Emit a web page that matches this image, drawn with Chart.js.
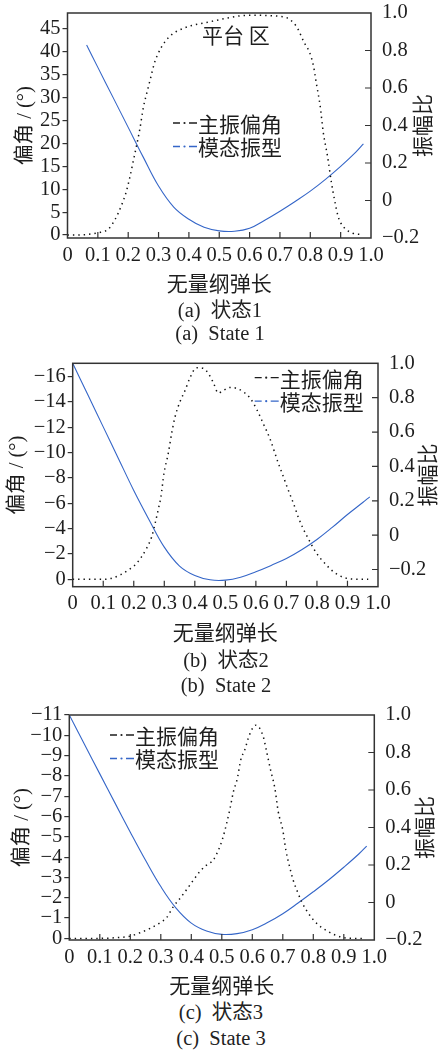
<!DOCTYPE html>
<html>
<head>
<meta charset="utf-8">
<script src="https://cdn.jsdelivr.net/npm/chart.js@4.4.1/dist/chart.umd.min.js"></script>
<style>
html, body { margin: 0; padding: 0; background: #fff; }
body { width: 439px; height: 1051px; position: relative; overflow: hidden;
       font-family: 'Liberation Serif', 'Noto Sans CJK SC', serif; color: #222; }
canvas { position: absolute; left: 0; }
.cap { position: absolute; width: 300px; text-align: center; font-size: 20.5px;
       line-height: 24px; white-space: pre; }
</style>
</head>
<body>
<canvas id="chartA" width="439" height="300" style="top:0px"></canvas>
<canvas id="chartB" width="439" height="305" style="top:345px"></canvas>
<canvas id="chartC" width="439" height="300" style="top:697px"></canvas>

<div class="cap" style="left:70px;top:298px">(a)  状态1</div>
<div class="cap" style="left:70px;top:321px">(a)  State 1</div>
<div class="cap" style="left:76px;top:648px">(b)  状态2</div>
<div class="cap" style="left:76px;top:673px">(b)  State 2</div>
<div class="cap" style="left:71px;top:1000px">(c)  状态3</div>
<div class="cap" style="left:71px;top:1026px">(c)  State 3</div>

<script>
// Tick values
const X_TICKS = [0, 0.1, 0.2, 0.3, 0.4, 0.5, 0.6, 0.7, 0.8, 0.9, 1.0];
const RATIO_TICKS = [-0.2, 0, 0.2, 0.4, 0.6, 0.8, 1.0];
const ANGLE_TICKS_A = [0, 5, 10, 15, 20, 25, 30, 35, 40, 45];
const ANGLE_TICKS_B = [0, -2, -4, -6, -8, -10, -12, -14, -16];
const ANGLE_TICKS_C = [0, -1, -2, -3, -4, -5, -6, -7, -8, -9, -10, -11];

// State 1 - main deflection angle (deg) and mode shape
const ANGLE_X_A = [0, 0.05, 0.1, 0.134, 0.156, 0.178, 0.192, 0.204, 0.215, 0.239, 0.25, 0.264,
  0.275, 0.286, 0.297, 0.31, 0.335, 0.38, 0.47, 0.6, 0.71, 0.755, 0.78, 0.797, 0.81, 0.82,
  0.832, 0.843, 0.857, 0.87, 0.881, 0.892, 0.909, 0.94, 0.97];
const ANGLE_A = [0, 0.05, 0.5, 1.24, 3.3, 6.5, 9.1, 12.2, 15.6, 23.4, 27.9, 31.7,
  34.6, 37.5, 39.4, 41.1, 43.3, 45.1, 46.6, 48.0, 47.7, 45.5, 42.0, 40.0, 37.1, 33.1,
  28.4, 22.3, 17.1, 11.3, 7.3, 4.0, 1.8, 0.4, 0.1];
const MODE_X_A = [0.063, 0.1, 0.15, 0.2, 0.25, 0.3, 0.35, 0.4, 0.45, 0.5, 0.55, 0.6, 0.65,
  0.7, 0.75, 0.8, 0.85, 0.9, 0.95, 0.975];
const MODE_A = [0.829, 0.71, 0.55, 0.39, 0.23, 0.077, -0.035, -0.1, -0.143, -0.162, -0.164,
  -0.148, -0.105, -0.057, -0.005, 0.05, 0.113, 0.182, 0.258, 0.302];

// State 2
const ANGLE_X_B = [0, 0.1, 0.122, 0.155, 0.182, 0.204, 0.226, 0.242, 0.259, 0.27, 0.281, 0.289,
  0.299, 0.313, 0.324, 0.335, 0.351, 0.368, 0.384, 0.406, 0.428, 0.444, 0.461, 0.477, 0.493,
  0.515, 0.537, 0.559, 0.581, 0.603, 0.624, 0.646, 0.673, 0.69, 0.706, 0.723, 0.739, 0.755,
  0.777, 0.799, 0.826, 0.854, 0.886, 0.92, 0.968];
const ANGLE_B = [0, 0, -0.05, -0.34, -0.73, -1.13, -1.79, -2.45, -3.37, -4.42, -5.6, -6.52,
  -8.37, -9.94, -11.5, -12.8, -14.0, -14.9, -15.9, -16.7, -16.65, -16.26, -15.5, -14.7, -14.9,
  -15.15, -15.07, -14.8, -14.3, -13.4, -12.3, -11.1, -9.2, -8.1, -7.05, -6.0, -4.9, -4.0,
  -2.97, -2.05, -1.26, -0.6, -0.16, -0.02, 0];
const MODE_X_B = [0, 0.05, 0.1, 0.15, 0.2, 0.25, 0.3, 0.35, 0.4, 0.45, 0.5, 0.55, 0.6, 0.65,
  0.7, 0.75, 0.8, 0.85, 0.9, 0.95, 0.973];
const MODE_B = [1.0, 0.815, 0.63, 0.445, 0.26, 0.09, -0.07, -0.18, -0.235, -0.26, -0.262,
  -0.245, -0.213, -0.176, -0.136, -0.085, -0.025, 0.045, 0.12, 0.19, 0.223];

// State 3
const ANGLE_X_C = [0, 0.1, 0.15, 0.199, 0.232, 0.265, 0.297, 0.319, 0.341, 0.363, 0.385, 0.407,
  0.429, 0.45, 0.472, 0.489, 0.503, 0.516, 0.527, 0.538, 0.551, 0.562, 0.576, 0.59, 0.612,
  0.636, 0.647, 0.66, 0.674, 0.685, 0.7, 0.71, 0.721, 0.734, 0.748, 0.762, 0.784, 0.811,
  0.849, 0.888, 0.93, 0.964];
const ANGLE_C = [0, 0, -0.03, -0.11, -0.28, -0.49, -0.77, -1.02, -1.56, -1.97, -2.41, -2.87,
  -3.31, -3.61, -3.86, -4.35, -4.93, -5.67, -6.4, -7.22, -7.88, -8.78, -9.31, -10.0, -10.5,
  -9.93, -9.19, -8.29, -7.39, -6.24, -5.33, -4.35, -3.61, -2.87, -2.3, -1.8, -1.23, -0.74,
  -0.33, -0.08, 0, 0];
const MODE_X_C = [0, 0.05, 0.1, 0.15, 0.2, 0.25, 0.3, 0.35, 0.4, 0.45, 0.5, 0.55, 0.6, 0.65,
  0.7, 0.75, 0.8, 0.85, 0.9, 0.95, 0.975];
const MODE_C = [1.0, 0.843, 0.686, 0.53, 0.375, 0.225, 0.085, -0.03, -0.11, -0.152, -0.17,
  -0.166, -0.145, -0.107, -0.06, -0.003, 0.057, 0.12, 0.188, 0.26, 0.301];

const SERIES_NAMES = ['主振偏角', '模态振型'];
const BLUE = '#3566c8';
const INK = '#1e1e1e';
const FRAME = '#333';
const NUM_FONT = '"Liberation Serif", "Times New Roman", serif';
const CJK_FONT = '"Noto Sans CJK SC", sans-serif';
const MIX_FONT = '"Liberation Serif", "Noto Sans CJK SC", serif';

function zip(xs, ys) {
    return xs.map((x, i) => ({ x: x, y: ys[i] }));
}

function fmtNum(v, digits) {
    if (Math.abs(v) < 1e-9) return '0';
    return v.toFixed(digits).replace('-', '\u2212');
}

// keep label overhang from moving the plot area
function noOverhang(s) {
    s.paddingTop = 0;
    s.paddingBottom = 0;
    s.paddingLeft = 0;
    s.paddingRight = 0;
}

/**
 * Frame, inner tick marks, legend, axis titles and the note
 */
const panelDecor = {
    id: 'panelDecor',
    afterDatasetsDraw(chart, args, o) {
        const ctx = chart.ctx;
        const a = chart.chartArea;
        const sx = chart.scales.x;
        const sr = chart.scales.yR;
        const sl = chart.scales.yL;

        ctx.save();
        // frame
        ctx.strokeStyle = FRAME;
        ctx.lineWidth = 1.5;
        ctx.setLineDash([]);
        ctx.strokeRect(a.left, a.top, a.right - a.left, a.bottom - a.top);

        // inner ticks on x and right axis
        ctx.lineWidth = 1.2;
        ctx.beginPath();
        X_TICKS.forEach(v => {
            const px = sx.getPixelForValue(v);
            if (px - a.left < 2 || a.right - px < 2) return;
            ctx.moveTo(px, a.bottom);
            ctx.lineTo(px, a.bottom - 6);
        });
        RATIO_TICKS.forEach(v => {
            const py = sr.getPixelForValue(v);
            if (py - a.top < 2 || a.bottom - py < 2) return;
            ctx.moveTo(a.right, py);
            ctx.lineTo(a.right - 6, py);
        });
        ctx.stroke();

        // legend
        const lx = a.left + o.legendDx;
        let ly = a.top + o.legendDy;
        [INK, BLUE].forEach((col, i) => {
            ctx.strokeStyle = col;
            ctx.fillStyle = col;
            ctx.lineWidth = 1.3;
            ctx.beginPath();
            ctx.moveTo(lx, ly); ctx.lineTo(lx + 7, ly);
            ctx.moveTo(lx + 16, ly); ctx.lineTo(lx + 24, ly);
            ctx.stroke();
            ctx.beginPath();
            ctx.arc(lx + 11.5, ly, 1.1, 0, Math.PI * 2);
            ctx.fill();
            ctx.fillStyle = INK;
            ctx.font = '21px ' + CJK_FONT;
            ctx.textAlign = 'left';
            ctx.textBaseline = 'middle';
            ctx.fillText(SERIES_NAMES[i], lx + 25, ly + 1);
            ly += 23.5;
        });

        ctx.fillStyle = INK;
        ctx.textAlign = 'center';
        ctx.textBaseline = 'middle';

        // x axis title
        ctx.font = '21px ' + CJK_FONT;
        ctx.fillText('无量纲弹长', (a.left + a.right) / 2, a.bottom + 45);

        // y axis titles, both rotated counter-clockwise
        const cy = (a.top + a.bottom) / 2;
        ctx.save();
        ctx.translate(o.leftTitleX, cy);
        ctx.rotate(-Math.PI / 2);
        ctx.font = '20.5px ' + MIX_FONT;
        ctx.fillText('偏角 / (°)', 0, 0);
        ctx.restore();

        ctx.save();
        ctx.translate(o.rightTitleX, cy);
        ctx.rotate(-Math.PI / 2);
        ctx.font = '21px ' + CJK_FONT;
        ctx.fillText('振幅比', 0, 0);
        ctx.restore();

        // note inside plot
        if (o.note) {
            ctx.font = '21px ' + CJK_FONT;
            ctx.fillText(o.note.text, sx.getPixelForValue(o.note.x), sl.getPixelForValue(o.note.y));
        }
        ctx.restore();
    }
};

function buildChart(id, p) {
    const canvas = document.getElementById(id);
    const top = parseFloat(canvas.style.top);
    const H = canvas.height;
    const tickFont = { family: NUM_FONT, size: 20.5 };

    return new Chart(canvas.getContext('2d'), {
        type: 'line',
        data: {
            datasets: [{
                label: SERIES_NAMES[0],
                data: zip(p.angleX, p.angle),
                yAxisID: 'yL',
                borderColor: '#111',
                borderWidth: 1.5,
                borderDash: [1.4, 4],
                pointRadius: 0,
                cubicInterpolationMode: 'monotone',
                fill: false
            }, {
                label: SERIES_NAMES[1],
                data: zip(p.modeX, p.mode),
                yAxisID: 'yR',
                borderColor: BLUE,
                borderWidth: 1.1,
                pointRadius: 0,
                tension: 0.4,
                fill: false
            }]
        },
        options: {
            responsive: false,
            animation: false,
            events: [],
            layout: { padding: { top: p.area.top - top, left: 0, right: 0, bottom: 0 } },
            plugins: {
                legend: { display: false },
                tooltip: { enabled: false },
                panelDecor: {
                    legendDx: p.legendDx,
                    legendDy: p.legendDy,
                    leftTitleX: p.leftTitleX,
                    rightTitleX: p.rightTitleX,
                    note: p.note || null
                }
            },
            scales: {
                x: {
                    type: 'linear',
                    position: 'bottom',
                    min: 0,
                    max: 1,
                    grid: { display: false, drawTicks: false },
                    border: { display: false },
                    ticks: {
                        font: tickFont,
                        color: INK,
                        padding: 5,
                        autoSkip: false,
                        maxRotation: 0,
                        callback: v => (v === 0 ? '0' : v.toFixed(1))
                    },
                    afterBuildTicks: s => { s.ticks = X_TICKS.map(v => ({ value: v })); },
                    afterFit: s => { s.height = H - (p.area.bottom - top); noOverhang(s); }
                },
                yL: {
                    type: 'linear',
                    position: 'left',
                    min: p.leftMin,
                    max: p.leftMax,
                    reverse: p.reverse,
                    grid: { drawOnChartArea: false, drawTicks: true, tickLength: 5, color: FRAME, lineWidth: 1.2 },
                    border: { display: false },
                    ticks: { font: tickFont, color: INK, padding: 2, autoSkip: false, callback: v => fmtNum(v, 0) },
                    afterBuildTicks: s => { s.ticks = p.leftTicks.map(v => ({ value: v })); },
                    afterFit: s => { s.width = p.area.left; noOverhang(s); }
                },
                yR: {
                    type: 'linear',
                    position: 'right',
                    min: p.rightMin,
                    max: 1.0,
                    grid: { display: false, drawTicks: false },
                    border: { display: false },
                    ticks: { font: tickFont, color: INK, padding: 11, autoSkip: false, callback: v => fmtNum(v, 1) },
                    afterBuildTicks: s => { s.ticks = RATIO_TICKS.map(v => ({ value: v })); },
                    afterFit: s => { s.width = 439 - p.area.right; noOverhang(s); }
                }
            }
        },
        plugins: [panelDecor]
    });
}

function init() {
    buildChart('chartA', {
        area: { left: 67.5, right: 371, top: 13, bottom: 238 },
        angleX: ANGLE_X_A, angle: ANGLE_A, modeX: MODE_X_A, mode: MODE_A,
        leftMin: -0.65, leftMax: 48.5, reverse: false, leftTicks: ANGLE_TICKS_A,
        rightMin: -0.2,
        legendDx: 105.5, legendDy: 110,
        leftTitleX: 25.5, rightTitleX: 422.5,
        note: { text: '平台 区', x: 0.555, y: 43.7 }
    });
    buildChart('chartB', {
        area: { left: 72.7, right: 378, top: 363.3, bottom: 586.7 },
        angleX: ANGLE_X_B, angle: ANGLE_B, modeX: MODE_X_B, mode: MODE_B,
        leftMin: -17.05, leftMax: 0.58, reverse: true, leftTicks: ANGLE_TICKS_B,
        rightMin: -0.30,
        legendDx: 182, legendDy: 14.4,
        leftTitleX: 18, rightTitleX: 427.5
    });
    buildChart('chartC', {
        area: { left: 69.3, right: 374.3, top: 715, bottom: 940 },
        angleX: ANGLE_X_C, angle: ANGLE_C, modeX: MODE_X_C, mode: MODE_C,
        leftMin: -11, leftMax: 0.08, reverse: true, leftTicks: ANGLE_TICKS_C,
        rightMin: -0.2,
        legendDx: 40.7, legendDy: 20,
        leftTitleX: 23, rightTitleX: 424
    });
}

document.addEventListener('DOMContentLoaded', function() {
    const loads = [
        document.fonts.load('20px "Liberation Serif"', '0.1'),
        document.fonts.load('20px "Noto Sans CJK SC"', '主振偏角')
    ];
    Promise.all(loads).catch(() => null).then(init);
});
</script>
</body>
</html>
